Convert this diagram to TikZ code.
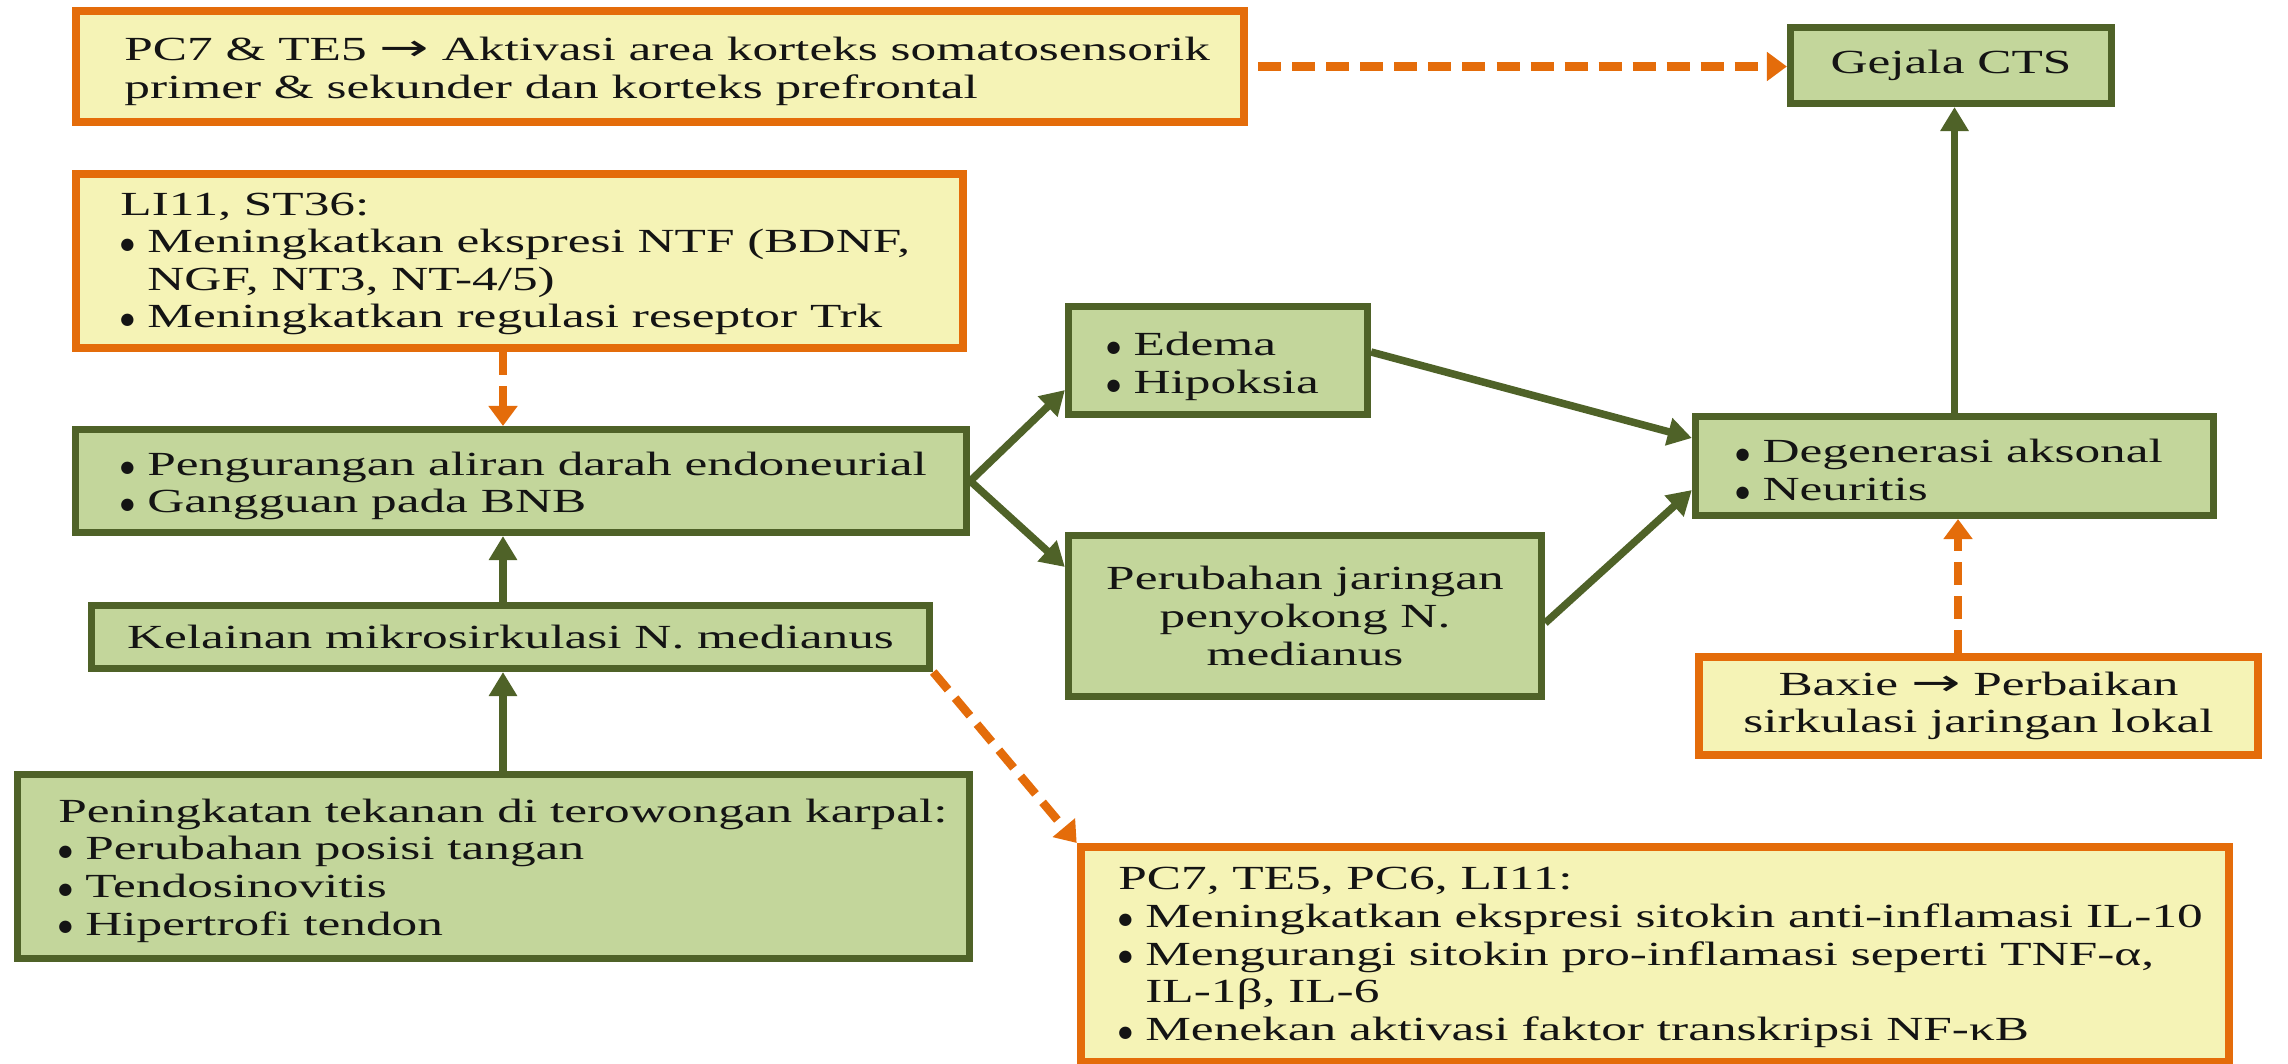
\documentclass[tikz,border=0pt]{standalone}
\usepackage{fontspec}
\setmainfont{Liberation Serif}[FakeStretch=1.52]
\newfontfamily\bulfont{DejaVu Sans}
\newfontfamily\arrfont{DejaVu Sans}[FakeStretch=1.6]
\usetikzlibrary{arrows.meta,calc}
\definecolor{gfill}{HTML}{C3D69B}
\definecolor{gline}{HTML}{4F6228}
\definecolor{ofill}{HTML}{F5F3B6}
\definecolor{oline}{HTML}{E46C0A}
\newcommand\bl{\raisebox{0.9pt}{\bulfont\fontsize{4.6pt}{5pt}\selectfont ●}\ }
\newcommand\ind{\hphantom{\bl}}
\newcommand\arr{{\arrfont\fontsize{10.5pt}{11pt}\selectfont →}}
\tikzset{
 txt/.style={font=\fontsize{9.6pt}{10.7pt}\selectfont, text=black!92, inner sep=0pt},
 gbox/.style={draw=gline, fill=gfill, line width=0.07cm, inner sep=0pt, txt, align=center},
 obox/.style={draw=oline, fill=ofill, line width=0.08cm, inner sep=0pt, txt, align=center},
 garrow/.style={draw=gline, line width=0.075cm, -{Triangle[width=0.27cm,length=0.24cm]}},
 oarrow/.style={draw=oline, line width=0.085cm, dash pattern=on 0.23cm off 0.11cm, -{Triangle[width=0.28cm,length=0.2cm]}},
 ltxt/.style={txt, align=left, anchor=west},
}
\begin{document}
\begin{tikzpicture}[x=0.01cm,y=-0.01cm]
\useasboundingbox[fill=white] (0,0) rectangle (2288,1063);

% boxes
\node[obox, minimum width=11.68cm, minimum height=1.11cm] (A) at (660,66.5) {};
\node[gbox, minimum width=3.21cm, minimum height=0.76cm] (Gej) at (1951,65.5) {Gejala CTS};
\node[obox, minimum width=8.87cm, minimum height=1.74cm] (B) at (519.5,261) {};
\node[gbox, minimum width=8.91cm, minimum height=1.03cm] (C) at (521,481) {};
\node[gbox, minimum width=8.38cm, minimum height=0.63cm] (D) at (510.5,637) {Kelainan mikrosirkulasi N. medianus};
\node[gbox, minimum width=9.52cm, minimum height=1.84cm] (E) at (493.5,866.5) {};
\node[gbox, minimum width=2.99cm, minimum height=1.08cm] (Ed) at (1218,360.5) {};
\node[gbox, minimum width=4.73cm, minimum height=1.61cm] (Per) at (1305,616) {Perubahan jaringan\\penyokong N.\\medianus};
\node[gbox, minimum width=5.18cm, minimum height=0.99cm] (Deg) at (1954.5,466) {};
\node[obox, minimum width=5.59cm, minimum height=0.98cm] (Bax) at (1978.5,706) {Baxie \arr{} Perbaikan\\sirkulasi jaringan lokal};
\node[obox, minimum width=11.48cm, minimum height=2.15cm] (F) at (1655,954.5) {};

% left-aligned texts
\node[ltxt] (tA) at ([xshift=0.52cm,yshift=-0.05cm]A.west) {PC7 \& TE5 \arr{} Aktivasi area korteks somatosensorik\\primer \& sekunder dan korteks prefrontal};
\node[ltxt] (tB) at ([xshift=0.48cm,yshift=-0.03cm]B.west) {LI11, ST36:\\\bl Meningkatkan ekspresi NTF (BDNF,\\\ind NGF, NT3, NT-4/5)\\\bl Meningkatkan regulasi reseptor Trk};
\node[ltxt] (tC) at ([xshift=0.48cm,yshift=-0.05cm]C.west) {\bl Pengurangan aliran darah endoneurial\\\bl Gangguan pada BNB};
\node[ltxt] (tE) at ([xshift=0.44cm,yshift=-0.04cm]E.west) {Peningkatan tekanan di terowongan karpal:\\\bl Perubahan posisi tangan\\\bl Tendosinovitis\\\bl Hipertrofi tendon};
\node[ltxt] (tEd) at ([xshift=0.41cm,yshift=-0.06cm]Ed.west) {\bl Edema\\\bl Hipoksia};
\node[ltxt] (tDeg) at ([xshift=0.43cm,yshift=-0.04cm]Deg.west) {\bl Degenerasi aksonal\\\bl Neuritis};
\node[ltxt] (tF) at ([xshift=0.41cm,yshift=-0.03cm]F.west) {PC7, TE5, PC6, LI11:\\\bl Meningkatkan ekspresi sitokin anti-inflamasi IL-10\\\bl Mengurangi sitokin pro-inflamasi seperti TNF-α,\\\ind IL-1β, IL-6\\\bl Menekan aktivasi faktor transkripsi NF-κB};

% connectors
\coordinate (cx) at (503,0);
\coordinate (bx) at (1958,0);
\draw[oarrow] ([xshift=0.1cm]A.east) -- (A.east -| Gej.west);
\draw[oarrow] (B.south -| cx) -- (C.north -| cx);
\draw[garrow] (D.north -| cx) -- (C.south -| cx);
\draw[garrow] (E.north -| cx) -- (D.south -| cx);
\draw[garrow] (C.east) -- ([yshift=-0.295cm]Ed.west);
\draw[garrow] (C.east) -- ([yshift=0.49cm]Per.west);
\draw[garrow] ([yshift=0.085cm]Ed.east) -- ([yshift=0.28cm]Deg.west);
\draw[garrow] ([yshift=-0.07cm]Per.east) -- ([yshift=-0.24cm]Deg.west);
\draw[garrow] (Deg.north) -- (Deg.north |- Gej.south);
\draw[oarrow] (Bax.north -| bx) -- (Deg.south -| bx);
\draw[oarrow] (D.south east) -- (F.north west);
\end{tikzpicture}
\end{document}
